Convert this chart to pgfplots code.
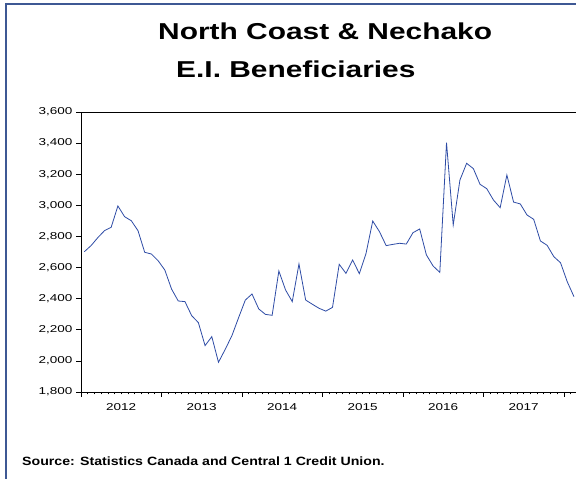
\documentclass[border=0pt]{standalone}
\usepackage{pgfplots}
\pgfplotsset{compat=1.18}
\usepackage{fontspec}
\setmainfont{Liberation Sans}
\newfontfamily\tickfamily{Liberation Sans}[FakeStretch=1.35]
\newfontfamily\titlefamily{Liberation Sans Bold}[FakeStretch=1.3]
\newfontfamily\sourcefamily{Liberation Sans Bold}[FakeStretch=1.18]
\definecolor{framecol}{RGB}{62,88,148}
\definecolor{linecol}{RGB}{45,75,165}
\pgfplotstableread{
x y
0.5 2702
1.5 2741
2.5 2792
3.5 2837
4.5 2859
5.5 2996
6.5 2927
7.5 2901
8.5 2837
9.5 2698
10.5 2687
11.5 2644
12.5 2584
13.5 2462
14.5 2385
15.5 2381
16.5 2291
17.5 2246
18.5 2098
19.5 2156
20.5 1991
21.5 2074
22.5 2162
23.5 2278
24.5 2391
25.5 2430
26.5 2334
27.5 2299
28.5 2293
29.5 2578
30.5 2456
31.5 2381
32.5 2623
33.5 2391
34.5 2364
35.5 2338
36.5 2320
37.5 2344
38.5 2621
39.5 2563
40.5 2649
41.5 2561
42.5 2691
43.5 2899
44.5 2831
45.5 2741
46.5 2749
47.5 2756
48.5 2751
49.5 2824
50.5 2848
51.5 2681
52.5 2610
53.5 2569
54.5 3403
55.5 2874
56.5 3163
57.5 3270
58.5 3236
59.5 3135
60.5 3107
61.5 3034
62.5 2985
63.5 3195
64.5 3021
65.5 3009
66.5 2938
67.5 2910
68.5 2771
69.5 2743
70.5 2670
71.5 2631
72.5 2509
73.5 2413
}\eidata
\begin{document}
\begin{tikzpicture}[x=1pt,y=1pt]
\draw[framecol, line width=2pt] (6,-5) -- (6,475) -- (585,475);
\node[anchor=base west, inner sep=0pt, font=\titlefamily\fontsize{23}{27}\selectfont] at (158,439) {North Coast \& Nechako};
\node[anchor=base west, inner sep=0pt, font=\titlefamily\fontsize{23}{27}\selectfont] at (176,401) {E.I. Beneficiaries};
\node[anchor=base west, inner sep=0pt, font=\sourcefamily\fontsize{12}{14}\selectfont] at (22,13) {Source: Statistics Canada and Central 1 Credit Union.};
\begin{axis}[
  at={(81pt,87pt)}, anchor=south west,
  scale only axis, width=496.3pt, height=280pt,
  xmin=0, xmax=74, ymin=1800, ymax=3600,
  ytick={1800,2000,...,3600},
  xtick={0,12,...,72}, xticklabels={},
  minor xtick={1,2,...,73},
  extra x ticks={6,18,30,42,54,66},
  extra x tick labels={2012,2013,2014,2015,2016,2017},
  extra x tick style={major tick length=0pt, xticklabel style={yshift=-8pt}},
  tick align=outside, tick pos=left,
  major tick length=5pt, minor tick length=2.5pt,
  tick style={black, line width=0.6pt},
  axis line style={black, line width=0.8pt},
  ticklabel style={font=\tickfamily\fontsize{10}{12}\selectfont},
  /pgf/number format/assume math mode=true,
  /pgf/number format/1000 sep={,},
  scaled y ticks=false,
  clip=false,
]
\addplot[linecol, line width=0.8pt, mark=none] table[x=x, y=y] {\eidata};
\end{axis}
\pgfresetboundingbox
\path[use as bounding box] (0,0) rectangle (576,479);
\end{tikzpicture}
\end{document}
